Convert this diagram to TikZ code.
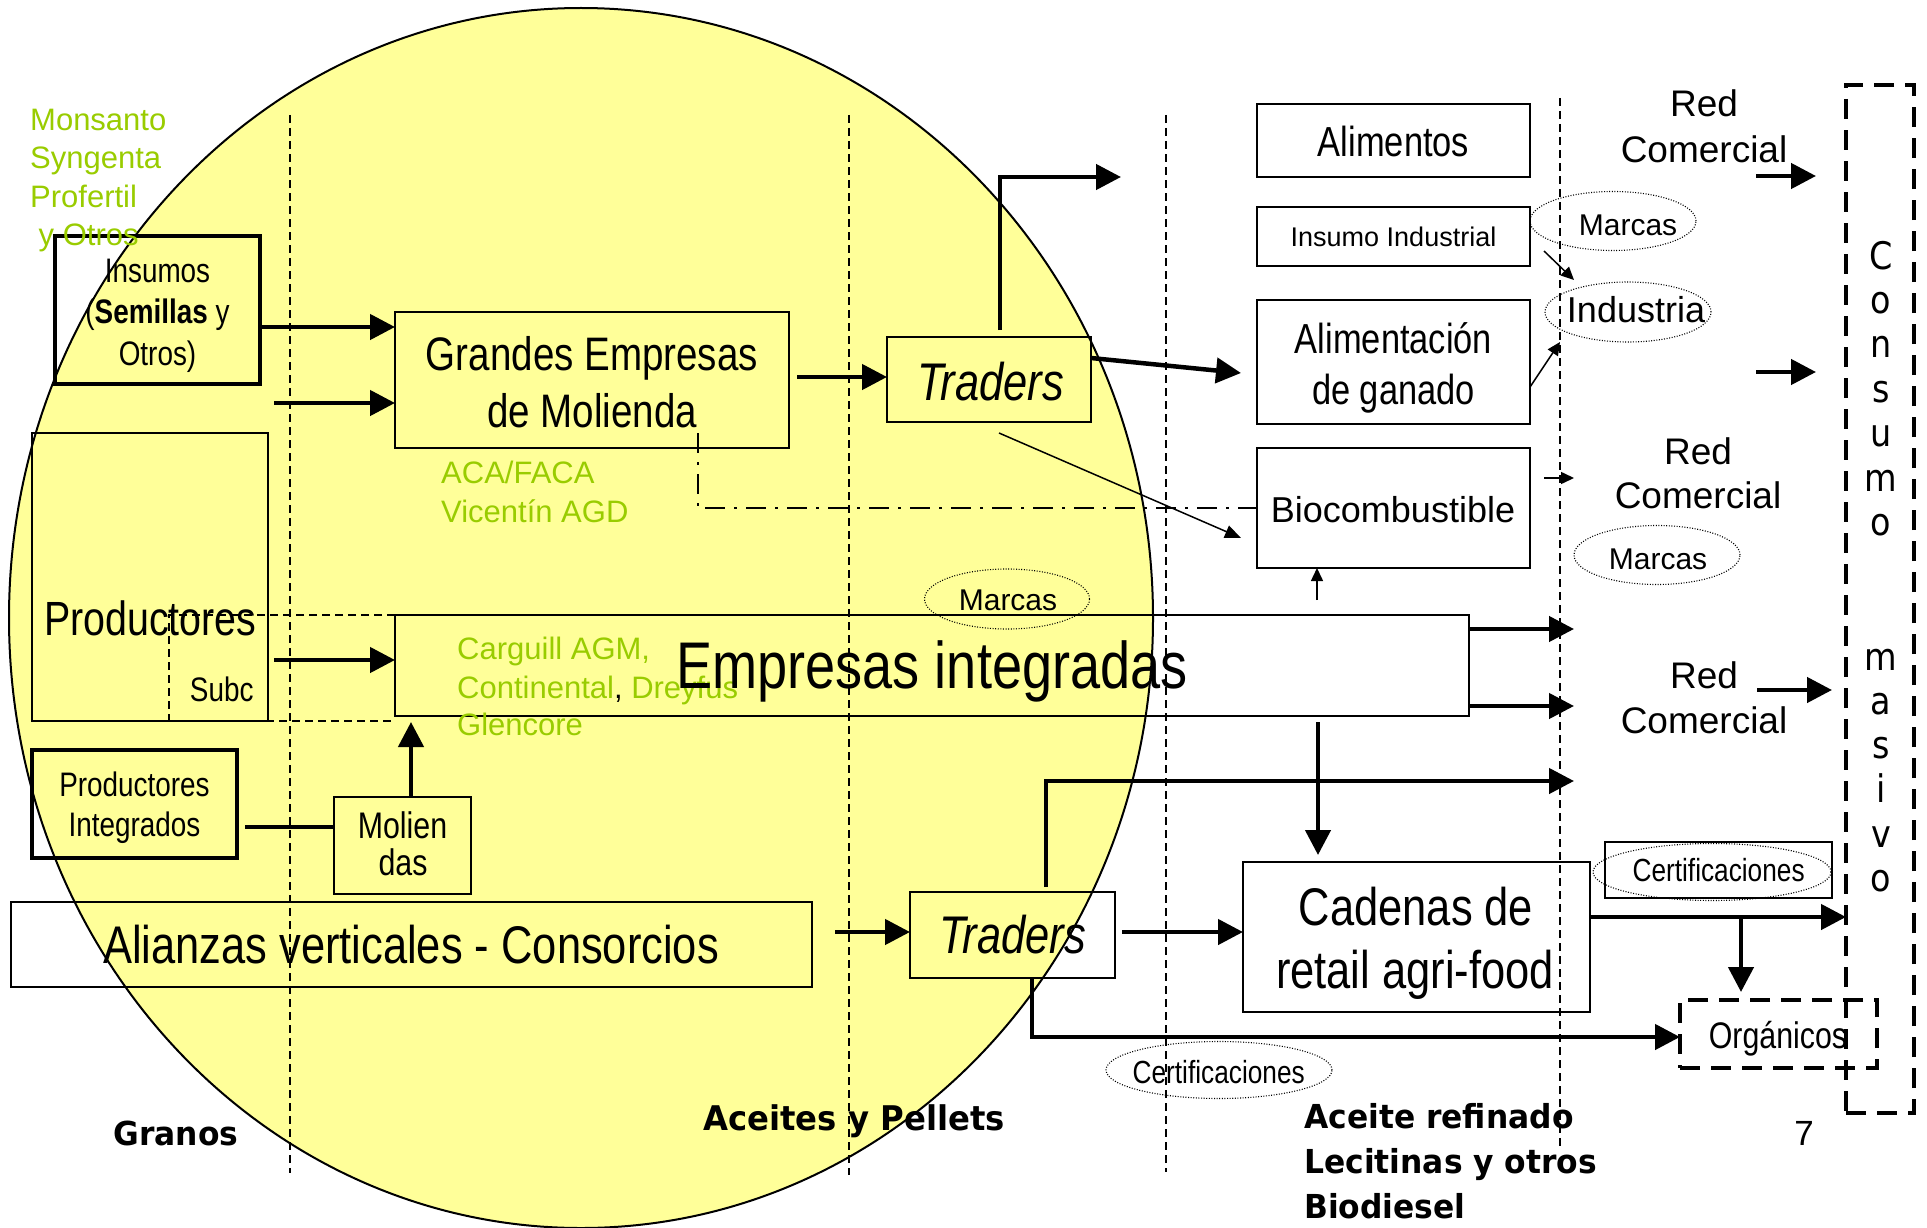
\documentclass[tikz,border=0pt]{standalone}
\usepackage{fontspec}
\setmainfont{Liberation Sans}
\newfontfamily\fAr{Liberation Sans}
\newfontfamily\fNr[FakeStretch=0.82]{Liberation Sans}
\newfontfamily\fTh[FakeStretch=0.88]{DejaVu Sans}
\newfontfamily\fBd[FakeStretch=0.95]{DejaVu Sans}
\usetikzlibrary{shapes.geometric,arrows.meta}
\definecolor{ylw}{HTML}{FFFF99}
\definecolor{grn}{HTML}{99CC00}
\newcommand\myfs[1]{\fontsize{#1}{#1}\selectfont}
\begin{document}
\begin{tikzpicture}[x=1pt,y=-1pt,
 box/.style={draw, line width=2pt, inner sep=0pt, outer sep=0pt, rectangle},
 tbox/.style={box, line width=3.5pt},
 dbox/.style={draw, line width=3.5pt, dash pattern=on 20pt off 11pt, inner sep=0pt, outer sep=0pt, rectangle},
 ell/.style={draw, ellipse, line width=1.1pt, dash pattern=on 1pt off 1.6pt, inner sep=0pt, outer sep=0pt},
 t/.style={inner sep=0pt, anchor=base},
 tl/.style={inner sep=0pt, anchor=base west},
 big/.style={line width=4.5pt, -{Triangle[length=25pt,width=25pt]}},
 bigl/.style={line width=4.5pt},
 thinar/.style={line width=1.5pt, -{Triangle[length=16pt,width=13pt]}},
 smallar/.style={line width=1.5pt, -{Triangle[length=13pt,width=12pt]}},
 vdash/.style={line width=1.5pt, dash pattern=on 8pt off 5pt},
 ddot/.style={line width=1.5pt, dash pattern=on 20pt off 9pt on 3pt off 9pt},
]
\useasboundingbox (0,0) rectangle (1927,1228);

% big yellow oval
\node[draw, ellipse, fill=ylw, line width=2pt, minimum width=1144pt, minimum height=1220pt, inner sep=0pt] (oval) at (581,618) {};

% vertical dashed separators
\coordinate (v1t) at (290,115); \coordinate (v1b) at (290,1173);
\coordinate (v2t) at (849,115); \coordinate (v2b) at (849,1175);
\coordinate (v3t) at (1166,115); \coordinate (v3b) at (1166,1172);
\coordinate (v4t) at (1560,98); \coordinate (v4b) at (1560,1147);
\draw[vdash] (v1t) -- (v1b);
\draw[vdash] (v2t) -- (v2b);
\draw[vdash] (v3t) -- (v3b);
\draw[vdash] (v4t) -- (v4b);

% boxes
\node[tbox, minimum width=205pt, minimum height=148pt] (ins) at (157.5,310) {};
\node[box, minimum width=394pt, minimum height=136pt] (gem) at (592,380) {};
\node[box, minimum width=204pt, minimum height=85pt] (trT) at (989,379.5) {};
\node[box, minimum width=273pt, minimum height=73pt] (ali) at (1393.5,140.5) {};
\node[box, minimum width=273pt, minimum height=59pt] (insI) at (1393.5,236.5) {};
\node[box, minimum width=273pt, minimum height=124pt] (alg) at (1393.5,362) {};
\node[box, minimum width=273pt, minimum height=120pt] (bio) at (1393.5,508) {};
\node[box, minimum width=1074pt, minimum height=101pt] (emp) at (932,665.5) {};
\node[box, minimum width=236pt, minimum height=288pt] (prod) at (150,577) {};
\draw[vdash] (emp.north west) -- (169,615) -- (169,721) -- (395,721);
\node[tbox, minimum width=205pt, minimum height=108pt] (pint) at (134.5,804) {};
\node[box, minimum width=137pt, minimum height=97pt] (mol) at (402.5,845.5) {};
\node[box, minimum width=801pt, minimum height=85pt] (alz) at (411.5,944.5) {};
\node[box, minimum width=205pt, minimum height=86pt] (trB) at (1012.5,935) {};
\node[box, minimum width=347pt, minimum height=150pt] (cad) at (1416.5,937) {};
\node[box, minimum width=227pt, minimum height=56pt] (crt) at (1718.5,870) {};
\node[dbox, minimum width=197pt, minimum height=68pt] (org) at (1778.5,1034) {};
\node[dbox, minimum width=68pt, minimum height=1028pt] (cons) at (1880,599) {};

% dotted ellipses
\node[ell, minimum width=166pt, minimum height=59pt] (mk1) at (1613,221) {};
\node[ell, minimum width=166pt, minimum height=60pt] (ind) at (1628,312) {};
\node[ell, minimum width=166pt, minimum height=59pt] (mk2) at (1657,555) {};
\node[ell, minimum width=165pt, minimum height=60pt] (mk3) at (1007,599) {};
\node[ell, minimum width=226pt, minimum height=57pt] (crL) at (1219,1070) {};
\node[ell, minimum width=238pt, minimum height=57pt] (crR) at (1712,872) {};

% connectors
\draw[big] (ins.east |- 0,327) -- (gem.west |- 0,327);
\coordinate (a2s) at (274,403);
\draw[big] (a2s) -- (gem.west |- a2s);
\coordinate (a3s) at (797,377);
\draw[big] (a3s) -- (trT.west |- a3s);
\coordinate (a4s) at (1000,330); \coordinate (a4e) at (1121,177);
\draw[big] (a4s) -- (a4s |- a4e) -- (a4e);
\coordinate (a5e) at (1241,373);
\draw[big] (trT.east |- 0,358) -- (a5e);
\coordinate (a6s) at (999,433); \coordinate (a6e) at (1241,538);
\draw[thinar] (a6s) -- (a6e);
\coordinate (a7s) at (698,433);
\draw[ddot] (a7s) -- (698,508) -- (bio.west |- 0,508);
\coordinate (a8s) at (274,660);
\draw[big] (a8s) -- (emp.west |- a8s);
\coordinate (a9s) at (245,827);
\draw[bigl] (a9s) -- (mol.west |- a9s);
\coordinate (a10e) at (411,722);
\draw[big] (mol.north -| a10e) -- (a10e);
\coordinate (a11s) at (835,932);
\draw[big] (a11s) -- (trB.west |- a11s);
\coordinate (a12s) at (1046,887); \coordinate (a12e) at (1574,781);
\draw[big] (a12s) -- (a12s |- a12e) -- (a12e);
\coordinate (a13s) at (1122,932);
\draw[big] (a13s) -- (cad.west |- a13s);
\coordinate (a14e) at (1680,1037);
\draw[big] (trB.south -| 1032,0) -- (1032,1037) -- (org.west |- a14e);
\coordinate (a15s) at (1318,722); \coordinate (a15e) at (1318,855);
\draw[big] (a15s) -- (a15e);
\coordinate (a16e) at (1574,629); \coordinate (a17e) at (1574,706);
\draw[big] (emp.east |- a16e) -- (a16e);
\draw[big] (emp.east |- a17e) -- (a17e);
\draw[big] (cad.east |- 0,917) -- (cons.west |- 0,917);
\coordinate (a19s) at (1741,917); \coordinate (a19e) at (1741,992);
\draw[big] (a19s) -- (a19e);
\coordinate (a20s) at (1756,176); \coordinate (a20e) at (1816,176);
\draw[big] (a20s) -- (a20e);
\coordinate (a21s) at (1756,372); \coordinate (a21e) at (1816,372);
\draw[big] (a21s) -- (a21e);
\coordinate (a22s) at (1757,690); \coordinate (a22e) at (1832,690);
\draw[big] (a22s) -- (a22e);
\coordinate (a23s) at (1544,251); \coordinate (a23e) at (1574,280);
\draw[smallar] (a23s) -- (a23e);
\coordinate (a24e) at (1560,342);
\draw[smallar] (alg.east |- 0,387) -- (a24e);
\coordinate (a25s) at (1544,478); \coordinate (a25e) at (1574,478);
\draw[smallar] (a25s) -- (a25e);
\coordinate (a26s) at (1317,600);
\draw[smallar] (a26s) -- (bio.south -| a26s);

% green company names
\node[tl, text=grn] (g1) at (30,131) {\fAr\myfs{31}Monsanto};
\node[tl, text=grn] (g2) at (30,168.5) {\fAr\myfs{31}Syngenta};
\node[tl, text=grn] (g3) at (30,207) {\fAr\myfs{31}Profertil};
\node[tl, text=grn] (g4) at (38.5,245) {\fAr\myfs{31}y Otros};
\node[tl, text=grn] (g5) at (441,483) {\fAr\myfs{31}ACA/FACA};
\node[tl, text=grn] (g6) at (441,522) {\fAr\myfs{31}Vicentín AGD};
\node[tl, text=grn] (g7) at (457,659) {\fAr\myfs{31}Carguill AGM,};
\node[tl, text=grn] (g8) at (457,698) {\fAr\myfs{31}Continental{\color{black},} Dreyfus};
\node[tl, text=grn] (g9) at (457,735) {\fAr\myfs{31}Glencore};

% box texts
\node[t] (tIns1) at (157.5,282) {\fNr\myfs{34}Insumos};
\node[t] (tIns2) at (157.5,323.5) {\fNr\myfs{34}(\textbf{Semillas} y};
\node[t] (tIns3) at (157.5,365) {\fNr\myfs{34}Otros)};
\node[t] (tGem1) at (592,370) {\fNr\myfs{47}Grandes Empresas};
\node[t] (tGem2) at (592,427) {\fNr\myfs{47}de Molienda};
\node[t] (tTrT) at (990.5,400) {\fNr\itshape\myfs{53}Traders};
\node[t] (tAli) at (1393.5,157) {\fNr\myfs{42}Alimentos};
\node[t] (tInsI) at (1393.5,246) {\fAr\myfs{27}Insumo Industrial};
\node[t] (tAlg1) at (1393.5,353) {\fNr\myfs{42}Alimentación};
\node[t] (tAlg2) at (1393.5,404) {\fNr\myfs{42}de ganado};
\node[t] (tBio) at (1393,522) {\fAr\myfs{36}Biocombustible};
\node[t] (tR1a) at (1704,117) {\fAr\myfs{37}Red};
\node[t] (tR1b) at (1704,162) {\fAr\myfs{37}Comercial};
\node[t] (tR2a) at (1698,464) {\fAr\myfs{37}Red};
\node[t] (tR2b) at (1698,508) {\fAr\myfs{37}Comercial};
\node[t] (tR3a) at (1704,688) {\fAr\myfs{37}Red};
\node[t] (tR3b) at (1704,733) {\fAr\myfs{37}Comercial};
\node[t] (tMk1) at (1628,235) {\fAr\myfs{30}Marcas};
\node[t] (tInd) at (1636,322.5) {\fAr\myfs{36}Industria};
\node[t] (tMk2) at (1658,569) {\fAr\myfs{30}Marcas};
\node[t] (tMk3) at (1008,610) {\fAr\myfs{30}Marcas};
\node[t] (tEmp) at (932,688) {\fNr\myfs{66}Empresas integradas};
\node[t] (tProd) at (150.3,635) {\fNr\myfs{48}Productores};
\node[t] (tSubc) at (221.7,701.7) {\fNr\myfs{34}Subc};
\node[t] (tPi1) at (134.5,796.7) {\fNr\myfs{34}Productores};
\node[t] (tPi2) at (134.5,836.7) {\fNr\myfs{34}Integrados};
\node[t] (tMol1) at (402.5,838.3) {\fNr\myfs{37}Molien};
\node[t] (tMol2) at (403,875) {\fNr\myfs{37}das};
\node[t] (tAlz) at (411,963) {\fNr\myfs{53}Alianzas verticales - Consorcios};
\node[t] (tTrB) at (1012.5,953) {\fNr\itshape\myfs{53}Traders};
\node[t] (tCad1) at (1416,925) {\fNr\myfs{53}Cadenas de};
\node[t] (tCad2) at (1415,988) {\fNr\myfs{53}retail agri-food};
\node[t] (tCrR) at (1718.6,881.7) {\fNr\myfs{32}Certificaciones};
\node[t] (tCrL) at (1218.7,1083) {\fNr\myfs{32}Certificaciones};
\node[t] (tOrg) at (1778,1048) {\fNr\myfs{37}Orgánicos};

% bottom labels
\node[t] (tGr) at (176,1145) {\fBd\bfseries\myfs{33}Granos};
\node[tl] (tAc) at (703,1130) {\fBd\bfseries\myfs{34}Aceites y Pellets};
\node[tl] (tAr1) at (1304,1128) {\fBd\bfseries\myfs{33}Aceite refinado};
\node[tl] (tAr2) at (1304,1173) {\fBd\bfseries\myfs{33}Lecitinas y otros};
\node[tl] (tAr3) at (1304,1218) {\fBd\bfseries\myfs{33}Biodiesel};
\node[t] (tSeven) at (1804,1145) {\fAr\myfs{35}7};

% Consumo masivo (vertical)
\foreach \ch [count=\i] in {C,o,n,s,u,m,o}
  \node[t] (cA\i) at (1881,{269+44.4*(\i-1)}) {\fTh\myfs{38}\ch};
\foreach \ch [count=\i] in {m,a,s,i,v,o}
  \node[t] (cB\i) at (1881,{670+44.3*(\i-1)}) {\fTh\myfs{38}\ch};
\end{tikzpicture}
\end{document}
